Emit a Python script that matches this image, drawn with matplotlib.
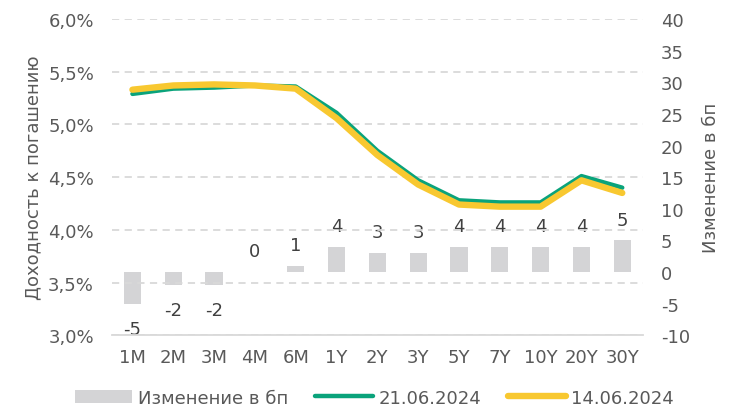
import numpy as np
import matplotlib
matplotlib.use('Agg')
import matplotlib.pyplot as plt
from matplotlib.ticker import FuncFormatter

tenors = ['1M', '2M', '3M', '4M', '6M', '1Y', '2Y', '3Y', '5Y', '7Y', '10Y', '20Y', '30Y']
ytm_2106 = [5.29, 5.34, 5.35, 5.37, 5.36, 5.11, 4.75, 4.47, 4.28, 4.26, 4.26, 4.51, 4.40]
ytm_1406 = [5.33, 5.37, 5.38, 5.37, 5.34, 5.06, 4.71, 4.43, 4.24, 4.22, 4.22, 4.47, 4.35]
change_bp = [-5, -2, -2, 0, 1, 4, 3, 3, 4, 4, 4, 4, 5]

green = '#0AA37B'
yellow = '#F8C830'
bar_col = '#D4D4D6'
txt = '#595959'

plt.rcParams['font.family'] = ['DejaVu Sans']
plt.rcParams['font.size'] = 13
plt.rcParams['axes.unicode_minus'] = False

fig = plt.figure(figsize=(7.37, 4.10), dpi=100)
ax = fig.add_axes([0.152, 0.18, 0.72, 0.771])
ax2 = ax.twinx()
x = np.arange(len(tenors))

# bars on the right axis
bars = ax2.bar(x, change_bp, width=0.42, color=bar_col, label='Изменение в бп', zorder=1)
for xi, v in zip(x, change_bp):
    off = 15 if v >= 0 else -18
    ax2.annotate(str(v), (xi, v), xytext=(0, off), textcoords='offset points',
                 ha='center', va='center', color='#404040', fontsize=13)
ax2.set_ylim(-10, 40)
ax2.set_yticks(range(-10, 41, 5))
ax2.set_ylabel('Изменение в бп', color=txt, fontsize=13, labelpad=9)

# lines on the left axis
ax.set_zorder(ax2.get_zorder() + 1)
ax.patch.set_visible(False)
l1, = ax.plot(x, ytm_2106, color=green, lw=3.2, label='21.06.2024', solid_capstyle='round', zorder=3)
l2, = ax.plot(x, ytm_1406, color=yellow, lw=4.6, label='14.06.2024', solid_capstyle='round', zorder=4)
ax.set_ylim(3.0, 6.0)
ax.set_yticks(np.arange(3.0, 6.01, 0.5))
ax.yaxis.set_major_formatter(FuncFormatter(lambda v, p: f'{v:.1f}%'.replace('.', ',')))
ax.set_xlim(-0.5, len(tenors) - 0.5)
ax.set_xticks(x)
ax.set_xticklabels(tenors)
ax.set_ylabel('Доходность к погашению', color=txt, fontsize=13, labelpad=4)
ax.grid(axis='y', color='#D9D9D9', linestyle=(0, (4, 3)), lw=1.3)

for a in (ax, ax2):
    for s in a.spines.values():
        s.set_visible(False)
    a.tick_params(length=0, colors=txt, labelsize=13)
ax.spines['bottom'].set_visible(True)
ax.spines['bottom'].set_color('#D9D9D9')
ax.spines['bottom'].set_linewidth(1.3)
ax.tick_params(axis='y', pad=13)
ax.tick_params(axis='x', pad=9)
ax2.tick_params(axis='y', pad=13)

fig.legend([bars, l1, l2], ['Изменение в бп', '21.06.2024', '14.06.2024'],
           loc='center', bbox_to_anchor=(0.508, 0.028), ncol=3, frameon=False,
           handlelength=3.2, handletextpad=0.3, columnspacing=1.5, labelcolor=txt, fontsize=13)

fig.savefig('out.png', dpi=100)
